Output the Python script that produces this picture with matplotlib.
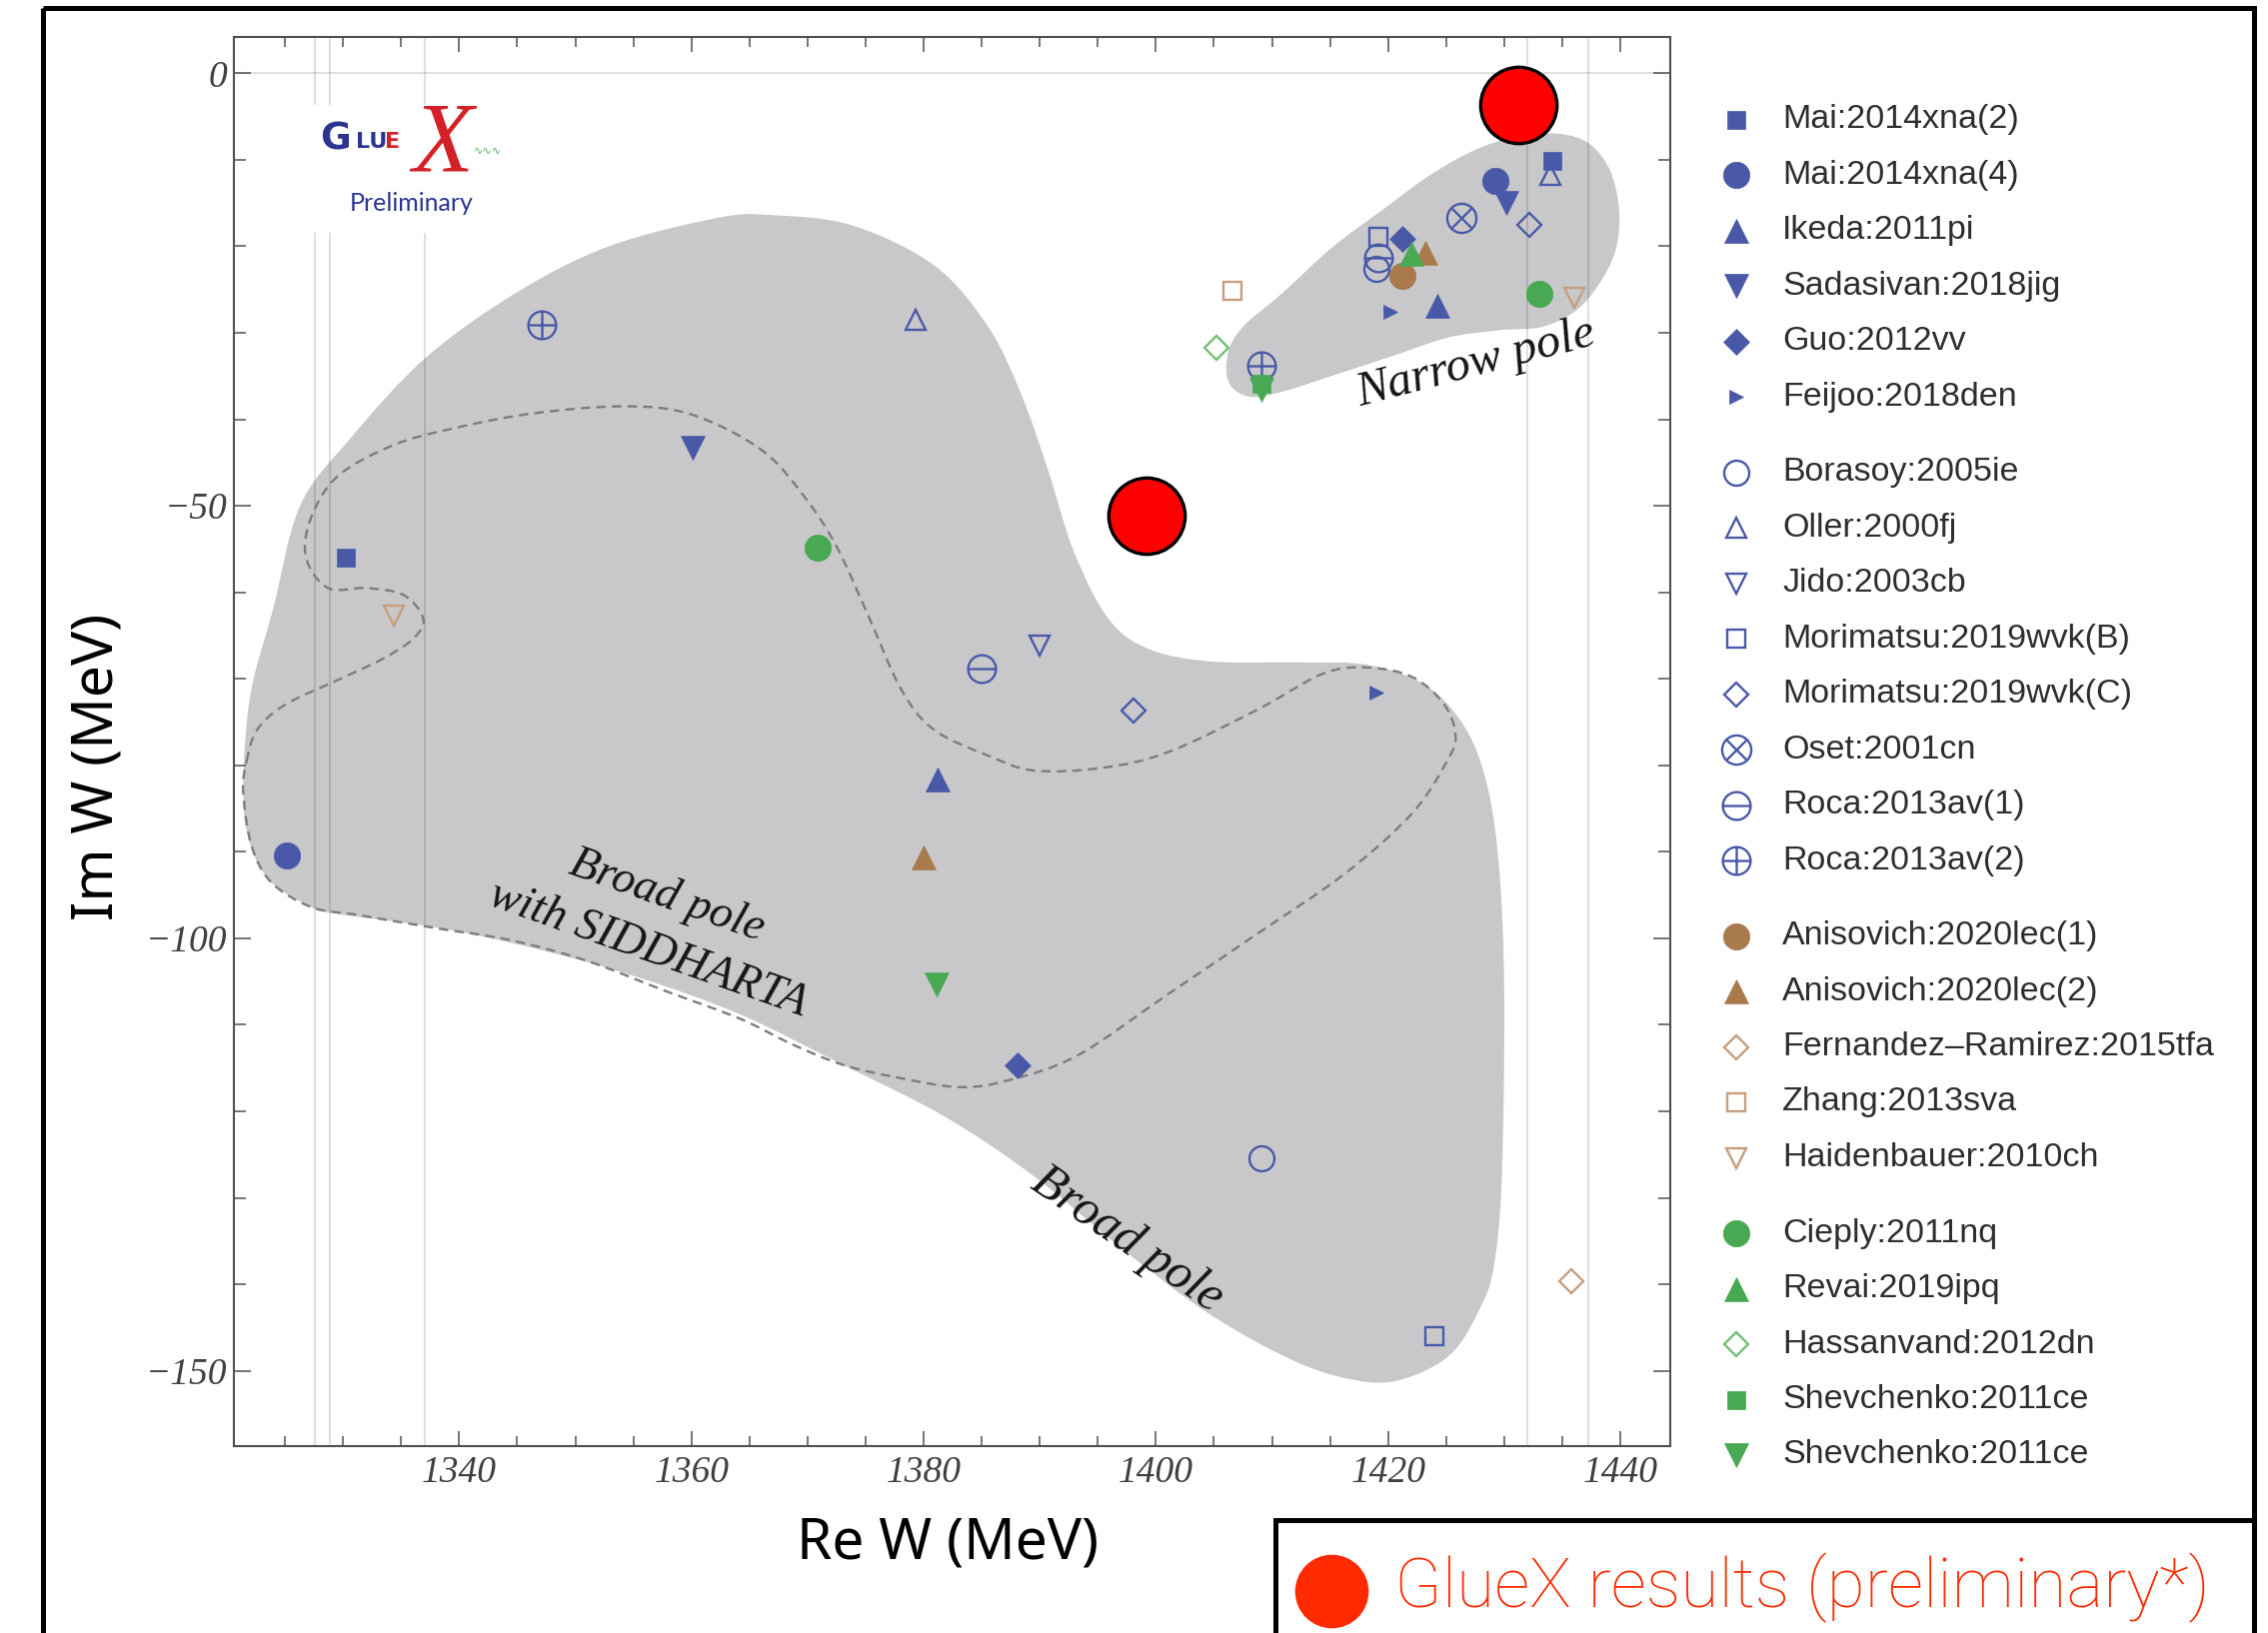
"""
lambda1405_poles.py — Λ(1405) pole positions in the complex energy plane
=======================================================================
Compilation of the two Λ(1405) poles from chiral unitary / coupled-channel
fits, with the shaded narrow / broad pole regions and the GlueX points.
"""

import numpy as np
import matplotlib
matplotlib.use("Agg")
import matplotlib.pyplot as plt
from matplotlib.path import Path
from matplotlib.patches import PathPatch, Rectangle

# ── Data ───────────────────────────────────────────────────────────────────────
LABELS = [
    "Mai:2014xna(2)", "Mai:2014xna(4)", "Ikeda:2011pi", "Sadasivan:2018jig",
    "Guo:2012vv", "Feijoo:2018den",
    "Borasoy:2005ie", "Oller:2000fj", "Jido:2003cb", "Morimatsu:2019wvk(B)",
    "Morimatsu:2019wvk(C)", "Oset:2001cn", "Roca:2013av(1)", "Roca:2013av(2)",
    "Anisovich:2020lec(1)", "Anisovich:2020lec(2)", "Fernandez\u2013Ramirez:2015tfa",
    "Zhang:2013sva", "Haidenbauer:2010ch",
    "Cieply:2011nq", "Revai:2019ipq", "Hassanvand:2012dn", "Shevchenko:2011ce",
    "Shevchenko:2011ce",
]
GROUP_SIZES = [6, 8, 5, 5]

# upper pole, close to the K̄N threshold (None = not shown)
NARROW_RE = [1434.1, 1429.2, 1424.2, 1430.2, 1421.2, 1420.2,
             1419.0, 1434.0, None, 1419.2, 1432.2, 1426.3, 1419.2, 1409.1,
             1421.2, 1423.2, None, 1406.6, 1436.0,
             1433.0, 1422.0, 1405.2, 1409.1, 1409.1]
NARROW_IM = [-10.1, -12.4, -26.9, -15.0, -19.1, -27.6,
             -22.6, -11.8, None, -18.9, -17.5, -16.7, -21.3, -33.8,
             -23.4, -20.7, None, -25.1, -25.9,
             -25.5, -20.9, -31.7, -35.9, -36.6]

# lower, broad pole
BROAD_RE = [1330.2, 1325.2, 1381.2, 1360.1, 1388.1, 1419.0,
            1409.1, 1379.3, 1390.0, 1424.0, 1398.1, None, 1385.0, 1347.1,
            None, 1380.0, 1435.8, None, 1334.4,
            1370.9, None, None, None, 1381.1]
BROAD_IM = [-56.0, -90.4, -81.6, -43.3, -114.7, -71.6,
            -125.4, -28.5, -66.2, -146.0, -73.7, None, -68.8, -29.1,
            None, -90.7, -139.6, None, -62.7,
            -54.8, None, None, None, -105.3]

GLUEX_RE = [1431.2, 1399.2]
GLUEX_IM = [-3.7, -51.1]

# πΣ and K̄N thresholds
THRESHOLDS = [1327.6, 1328.9, 1337.0, 1432.0, 1437.2]

X_TICKS = [1340, 1360, 1380, 1400, 1420, 1440]
X_TICK_LABELS = ["1340", "1360", "1380", "1400", "1420", "1440"]
Y_TICKS = [0, -50, -100, -150]
Y_TICK_LABELS = ["0", "\u221250", "\u2212100", "\u2212150"]

# shaded regions (Re W, Im W)
NARROW_OUT_RE = [1434.8, 1437.3, 1439.1, 1439.9, 1439.6, 1438.2, 1436.2, 1433.3,
                 1429.6, 1425.3, 1421.0, 1415.8, 1410.9, 1408.1, 1406.3, 1406.2,
                 1407.5, 1410.9, 1415.2, 1419.5, 1423.8, 1428.1, 1431.9]
NARROW_OUT_IM = [-7.0, -8.1, -11.2, -15.8, -20.4, -24.3, -27.4, -29.3,
                 -29.7, -30.5, -32.4, -34.7, -36.8, -37.4, -35.8, -32.4,
                 -29.3, -25.4, -20.1, -15.8, -11.6, -8.5, -7.2]

BROAD_OUT_RE = [1321.4, 1322.0, 1324.0, 1326.3, 1330.5, 1337.1, 1345.0, 1352.9,
                1362.3, 1367.0, 1373.9, 1381.0, 1385.6, 1388.4, 1390.7, 1393.0,
                1396.0, 1399.5, 1404.8, 1412.5, 1418.3, 1423.3, 1426.7, 1428.6,
                1429.6, 1430.0, 1429.8, 1429.1, 1427.9, 1425.6, 1422.1, 1418.3,
                1412.5, 1404.8, 1397.1, 1389.5, 1381.8, 1373.0, 1364.2, 1355.4,
                1346.6, 1337.8, 1329.1, 1326.9, 1323.8, 1322.0]
BROAD_OUT_IM = [-83.0, -72.0, -61.8, -50.0, -42.4, -32.9, -25.3, -20.0,
                -16.7, -16.4, -17.6, -22.3, -29.4, -37.1, -45.8, -55.5,
                -63.2, -66.6, -68.0, -68.1, -68.4, -70.8, -75.8, -82.7,
                -92.5, -106.5, -127.5, -138.0, -142.8, -147.8, -150.6, -151.3,
                -149.2, -143.6, -135.9, -127.5, -120.6, -114.6, -108.8, -104.5,
                -101.2, -98.7, -97.1, -96.1, -93.5, -89.1]

SIDD_RE = [1321.7, 1322.6, 1325.0, 1329.6, 1333.4, 1336.1, 1336.9, 1335.2,
           1332.0, 1328.7, 1326.8, 1327.3, 1329.6, 1334.3, 1339.0, 1345.9,
           1353.9, 1359.9, 1366.0, 1369.7, 1372.5, 1375.3, 1378.1, 1380.9,
           1385.6, 1389.5, 1395.3, 1401.0, 1408.7, 1414.4, 1418.3, 1422.1,
           1424.8, 1425.8, 1425.2, 1422.1, 1416.3, 1408.7, 1401.0, 1393.3,
           1387.6, 1383.1, 1377.4, 1373.0, 1368.6, 1364.2, 1357.6, 1351.0,
           1344.4, 1337.9, 1331.3, 1327.3, 1323.8, 1322.1, 1321.4]
SIDD_IM = [-79.5, -75.9, -73.0, -70.1, -67.7, -65.3, -63.0, -60.3,
           -59.5, -59.5, -55.9, -51.2, -46.5, -43.0, -41.2, -39.4,
           -38.5, -39.4, -43.5, -48.9, -54.7, -62.9, -71.3, -75.9,
           -78.9, -80.6, -80.3, -78.5, -73.6, -69.4, -68.7, -69.8,
           -72.9, -76.4, -79.2, -85.5, -92.5, -99.5, -106.5, -113.5,
           -116.3, -117.2, -116.0, -114.6, -112.2, -109.3, -106.0, -102.6,
           -100.2, -98.8, -97.3, -96.4, -93.5, -89.2, -83.0]

# ── Style ──────────────────────────────────────────────────────────────────────
W_PX, H_PX = 2269, 1634
BLUE   = "#4a59a7"
BROWN  = "#a87a4c"
TAN    = "#c69e7e"
GREEN  = "#49a952"
LGREEN = "#74bf74"
GREY_FILL = "#c8c8ca"


def circle_with(*segments):
    parts = [Path.unit_circle()]
    parts += [Path(seg, [Path.MOVETO, Path.LINETO]) for seg in segments]
    return Path.make_compound_path(*parts)


O_CROSS = circle_with([(-0.71, -0.71), (0.71, 0.71)], [(-0.71, 0.71), (0.71, -0.71)])
O_MINUS = circle_with([(-1, 0), (1, 0)])
O_PLUS  = circle_with([(-1, 0), (1, 0)], [(0, -1), (0, 1)])

# (marker, colour, filled, size) per series, same order as LABELS
STYLES = [
    ("s", BLUE, True, 13), ("o", BLUE, True, 19), ("^", BLUE, True, 17),
    ("v", BLUE, True, 17), ("D", BLUE, True, 13), (">", BLUE, True, 10),
    ("o", BLUE, False, 18), ("^", BLUE, False, 15), ("v", BLUE, False, 15),
    ("s", BLUE, False, 13), ("D", BLUE, False, 12), (O_CROSS, BLUE, False, 21),
    (O_MINUS, BLUE, False, 20), (O_PLUS, BLUE, False, 20),
    ("o", BROWN, True, 19), ("^", BROWN, True, 17), ("D", TAN, False, 12),
    ("s", TAN, False, 13), ("v", TAN, False, 15),
    ("o", GREEN, True, 19), ("^", GREEN, True, 17), ("D", LGREEN, False, 12),
    ("s", GREEN, True, 13), ("v", GREEN, True, 17),
]


def marker_kw(style):
    marker, color, filled, size = style
    if filled:
        return dict(marker=marker, ms=size, mfc=color, mec=color, mew=0.5)
    return dict(marker=marker, ms=size, mfc="none", mec=color, mew=1.7)


def smooth_closed(xs, ys):
    """Closed Catmull-Rom curve through the outline points, as cubic Béziers."""
    p = np.column_stack([xs, ys])
    n = len(p)
    verts, codes = [p[0]], [Path.MOVETO]
    for i in range(n):
        p0, p1, p2, p3 = p[i - 1], p[i], p[(i + 1) % n], p[(i + 2) % n]
        verts += [p1 + (p2 - p0) / 6, p2 - (p3 - p1) / 6, p2]
        codes += [Path.CURVE4] * 3
    verts.append(p[0])
    codes.append(Path.CLOSEPOLY)
    return Path(verts, codes)


# ── Figure ─────────────────────────────────────────────────────────────────────
fig = plt.figure(figsize=(W_PX / 100, H_PX / 100), dpi=100)
ax = fig.add_axes([234 / W_PX, 1 - 1447 / H_PX, (1671 - 234) / W_PX, (1447 - 37) / H_PX])
ax.set_xlim(1320.6, 1444.3)
ax.set_ylim(-158.7, 4.2)

# shaded pole regions
ax.add_patch(PathPatch(smooth_closed(BROAD_OUT_RE, BROAD_OUT_IM), fc=GREY_FILL, ec="none", zorder=1))
ax.add_patch(PathPatch(smooth_closed(NARROW_OUT_RE, NARROW_OUT_IM), fc=GREY_FILL, ec="none", zorder=1))

# threshold lines and the real axis
for t in THRESHOLDS:
    ax.axvline(t, color="black", alpha=0.16, lw=1.1, zorder=1.5)
ax.axhline(0, color="black", alpha=0.16, lw=1.1, zorder=1.5)

# SIDDHARTA-constrained broad-pole contour
ax.add_patch(PathPatch(smooth_closed(SIDD_RE, SIDD_IM), fc="none", ec="#7d7d7d",
                       lw=1.7, ls=(0, (4, 2.6)), zorder=2))

# pole positions
for i, style in enumerate(STYLES):
    xs = [v for v in (NARROW_RE[i], BROAD_RE[i]) if v is not None]
    ys = [v for v in (NARROW_IM[i], BROAD_IM[i]) if v is not None]
    ax.plot(xs, ys, ls="none", zorder=3, **marker_kw(style))

ax.plot(GLUEX_RE, GLUEX_IM, ls="none", marker="o", ms=55, mfc="#ff0000",
        mec="black", mew=2.4, zorder=4)

# region labels
lab = dict(family="Liberation Serif", style="italic", color="#151515", ha="center",
           va="center", zorder=3.5, rotation_mode="anchor")
ax.text(1427.6, -33.5, "Narrow pole", fontsize=35, rotation=14.6, **lab)
ax.text(1357.9, -95.1, "Broad pole", fontsize=33, rotation=-19.5, **lab)
ax.text(1356.3, -101.3, "with SIDDHARTA", fontsize=33, rotation=-19.5, **lab)
ax.text(1397.5, -134.9, "Broad pole", fontsize=36, rotation=-34.5, **lab)

# axes, ticks
for side in ax.spines.values():
    side.set_color("#505050")
    side.set_linewidth(1.5)
ax.set_xticks(X_TICKS)
ax.set_xticklabels(X_TICK_LABELS, family="Liberation Serif", style="italic")
ax.set_yticks(Y_TICKS)
ax.set_yticklabels(Y_TICK_LABELS, family="Liberation Serif", style="italic")
ax.xaxis.set_minor_locator(matplotlib.ticker.MultipleLocator(5))
ax.yaxis.set_minor_locator(matplotlib.ticker.MultipleLocator(10))
ax.tick_params(which="both", direction="in", top=True, right=True, color="#505050",
               width=1.1, labelsize=27, labelcolor="#404040")
ax.tick_params(axis="x", which="major", length=11, pad=7)
ax.tick_params(axis="x", which="minor", length=7)
ax.tick_params(axis="y", which="major", length=12, pad=5)
ax.tick_params(axis="y", which="minor", length=8.5)

ax.set_xlabel("Re W (MeV)", family="Noto Sans", fontsize=41, color="black", va="center")
ax.xaxis.set_label_coords(0.497, -0.0695)
ax.set_ylabel("Im W (MeV)", family="Noto Sans", fontsize=41, color="black", va="center")
ax.yaxis.set_label_coords(-0.0946, 0.482)

# ── Overlay in pixel coordinates: logo, legend, frames ────────────────────────
ov = fig.add_axes([0, 0, 1, 1], zorder=5)
ov.set_xlim(0, W_PX)
ov.set_ylim(H_PX, 0)
ov.axis("off")

# GlueX logo
ov.add_patch(Rectangle((313, 105), 192, 128, fc="white", ec="none", zorder=1))
logo_blue, logo_red = "#2b3591", "#d42128"
ov.text(320, 149, "G", family="DejaVu Sans", weight="bold", fontsize=27,
        color=logo_blue, va="baseline", ha="left", zorder=2)
ov.text(356, 148, "LU", family="DejaVu Sans", weight="bold", fontsize=16,
        color=logo_blue, va="baseline", ha="left", zorder=2)
ov.text(385, 148, "E", family="DejaVu Sans", weight="bold", fontsize=16,
        color=logo_red, va="baseline", ha="left", zorder=2)
ov.text(488, 150, "\u223f\u223f\u223f", family="DejaVu Sans", fontsize=8,
        color="#4caf50", va="center", ha="center", zorder=2)
ov.text(443, 170, "X", family="Liberation Serif", style="italic", fontsize=72,
        color=logo_red, va="baseline", ha="center", zorder=3)
ov.text(412, 203, "Preliminary", family="Lato", fontsize=18, color=logo_blue,
        va="center", ha="center", zorder=2)

# legend
LEG_X_MARK, LEG_X_TEXT = 1737, 1783
LEG_Y0, LEG_STEP, LEG_GAP = 119.5, 55.5, 20.0
group_of = np.repeat(np.arange(len(GROUP_SIZES)), GROUP_SIZES)
for i, (label, style) in enumerate(zip(LABELS, STYLES)):
    y = LEG_Y0 + i * LEG_STEP + group_of[i] * LEG_GAP
    ov.plot([LEG_X_MARK], [y], ls="none", **marker_kw(style))
    ov.text(LEG_X_TEXT, y, label, family="Liberation Sans", fontsize=24.5,
            color="#2e2e2e", va="center", ha="left")

# outer frame and the GlueX results box
ov.add_patch(Rectangle((43, 7.5), 2212, 1700, fc="none", ec="black", lw=3.6))
ov.add_patch(Rectangle((1276, 1521), 979, 200, fc="white", ec="black", lw=3.6))
ov.plot([1332], [1592], ls="none", marker="o", ms=53, mfc="#ff2a00", mec="none")
ov.text(1395, 1608, "GlueX results (preliminary*)", family="Roboto", weight="light",
        fontsize=50, color="#ff2a00", va="baseline", ha="left")

fig.savefig("out.png", dpi=100)
